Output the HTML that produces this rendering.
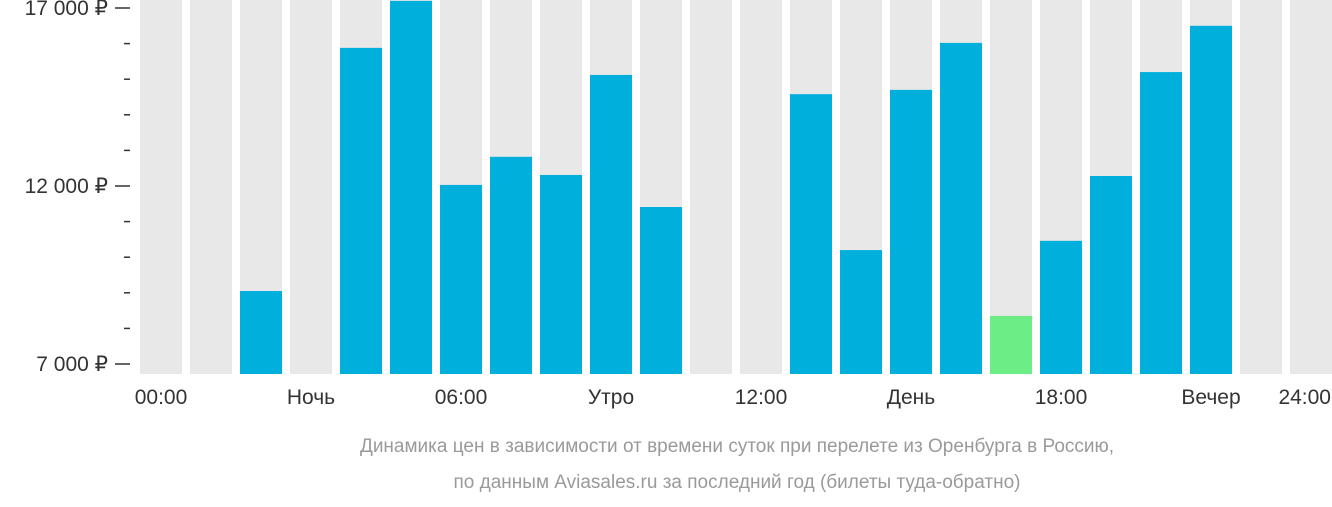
<!DOCTYPE html>
<html><head><meta charset="utf-8"><style>
body{margin:0;background:#fff;width:1332px;height:502px;overflow:hidden;font-family:"Liberation Sans","DejaVu Sans",sans-serif}
</style></head><body>
<svg id="c" width="1332" height="502" xmlns="http://www.w3.org/2000/svg">
<text x="737" y="452" text-anchor="middle" font-size="19" fill="#9a9a9a">Динамика цен в зависимости от времени суток при перелете из Оренбурга в Россию,</text>
<text x="737" y="488" text-anchor="middle" font-size="19" fill="#9a9a9a">по данным Aviasales.ru за последний год (билеты туда-обратно)</text>
</svg>
<script>
const hours=[0,1,2,3,4,5,6,7,8,9,10,11,12,13,14,15,16,17,18,19,20,21,22,23];
const prices=[null,null,9050,null,15880,17200,12030,12820,12310,15120,11410,null,null,14580,10200,14700,16020,8350,10460,12280,15200,16500,null,null];
const cheapestHour=17;
const yTicks=[7000,12000,17000];
const yTickLabels=["7 000 ₽","12 000 ₽","17 000 ₽"];
const xLabels=["00:00","Ночь","06:00","Утро","12:00","День","18:00","Вечер","24:00"];
const svg=document.getElementById('c');
const NS='http://www.w3.org/2000/svg';
const y=v=>364-(v-7000)/10000*356;
const x=h=>140+50*h;
function mk(t,a){const e=document.createElementNS(NS,t);for(const k in a)e.setAttribute(k,a[k]);svg.appendChild(e);return e;}
hours.forEach((h,i)=>{
 const g=mk('rect',{x:x(h),y:0,width:42,height:374,fill:'#e8e8e8'});
 
 
 if(prices[i]!=null){
  const top=y(prices[i]);
  const b=mk('rect',{x:x(h),y:top,width:42,height:374-top,fill:h===cheapestHour?'#6ced86':'#00afdb'});
  
  
 }
});
for(let v=7000;v<=17000;v+=1000){
 const major=yTicks.includes(v);
 const l=mk('line',{x1:major?115:124,x2:130,y1:y(v),y2:y(v),stroke:'#333','stroke-width':1.5});
 
 
}
yTicks.forEach((v,i)=>{
 const t=mk('text',{x:108,y:y(v)+7,'text-anchor':'end','font-size':21,fill:'#333'});
 t.textContent=yTickLabels[i];
 
 
});
xLabels.forEach((s,i)=>{
 const last=i===xLabels.length-1;
 const t=mk('text',{x:last?1331:x(i*3)+21,y:404,'text-anchor':last?'end':'middle','font-size':21,fill:'#333'});
 t.textContent=s;
 
 
});
</script>
</body></html>
